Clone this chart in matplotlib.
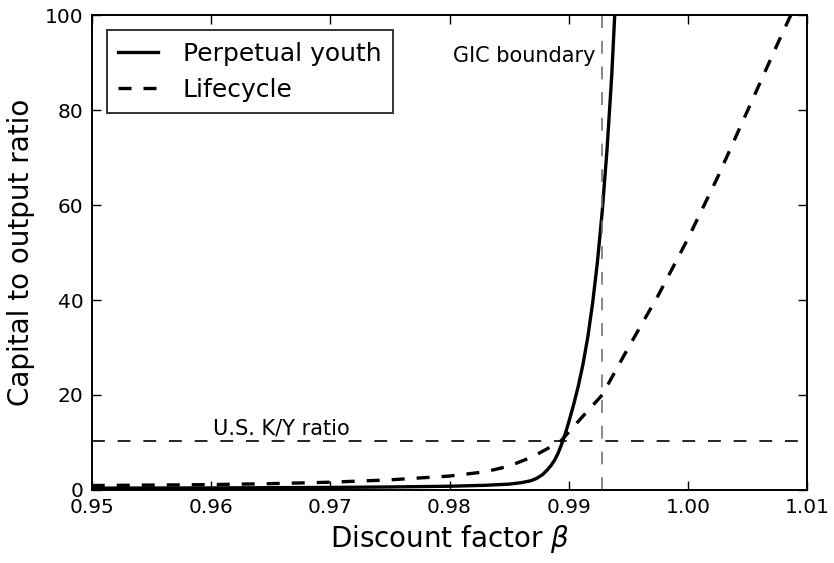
import matplotlib
matplotlib.use("Agg")
import matplotlib.pyplot as plt

# curves
beta_py = [0.950, 0.960, 0.970, 0.975, 0.980, 0.983, 0.985, 0.986, 0.9868,
           0.9873, 0.9878, 0.9882, 0.9885, 0.9888, 0.9891, 0.9894, 0.9897,
           0.9900, 0.9904, 0.9908, 0.9912, 0.9916, 0.9920, 0.9924, 0.9928,
           0.9932, 0.9936, 0.99385]
ky_py = [0.35, 0.4, 0.5, 0.6, 0.75, 0.95, 1.2, 1.5, 1.9,
         2.4, 3.2, 4.2, 5.1, 6.2, 7.7, 9.6, 11.8,
         14.3, 17.9, 21.9, 26.6, 32.3, 39.4, 48.0, 58.6,
         71.5, 87.3, 100.0]

beta_lc = [0.950, 0.955, 0.960, 0.965, 0.970, 0.975, 0.980, 0.983, 0.985,
           0.987, 0.9893, 0.991, 0.9928, 0.995, 0.9975, 1.000, 1.0025,
           1.005, 1.0075, 1.0086]
ky_lc = [0.9, 1.0, 1.1, 1.3, 1.6, 2.1, 2.9, 3.8, 5.0,
         7.0, 10.2, 15.0, 20.0, 30.0, 41.0, 53.0, 66.0,
         80.0, 94.0, 100.0]

us_ky = 10.26
gic_beta = 0.9928

xticks = [0.95, 0.96, 0.97, 0.98, 0.99, 1.00, 1.01]
yticks = [0, 20, 40, 60, 80, 100]

plt.rcParams['font.family'] = ['DejaVu Sans']
fig = plt.figure(figsize=(8.34, 5.63), dpi=100, facecolor='white')
ax = fig.add_axes([0.110, 0.130, 0.858, 0.8425])

ax.plot(beta_py, ky_py, color='k', lw=2.4, label='Perpetual youth')
ax.plot(beta_lc, ky_lc, color='k', lw=2.4, dashes=(3.9, 3.6), label='Lifecycle')

ax.axhline(us_ky, color='k', lw=1.2, dashes=(7.7, 7.7))
ax.axvline(gic_beta, color='0.45', lw=1.2, dashes=(7.7, 7.7))

ax.text(0.9922, 91.5, 'GIC boundary', ha='right', va='center', fontsize=15)
ax.text(0.9602, 11.7, 'U.S. K/Y ratio', ha='left', va='baseline', fontsize=15)

ax.set_xlim(0.95, 1.01)
ax.set_ylim(0, 100)
ax.set_xticks(xticks)
ax.set_xticklabels(['%.2f' % t for t in xticks])
ax.set_yticks(yticks)
ax.tick_params(direction='in', top=True, right=True, length=6.5, width=1,
               labelsize=14.5, pad=6)
for s in ax.spines.values():
    s.set_linewidth(1.4)

ax.set_xlabel(r'Discount factor $\beta$', fontsize=20)
ax.set_ylabel('Capital to output ratio', fontsize=20, labelpad=7)

leg = ax.legend(loc='upper left', fontsize=18, fancybox=False, frameon=True,
                borderaxespad=0.6, borderpad=0.45, handlelength=1.6,
                handletextpad=1.0, labelspacing=0.5)
leg.get_frame().set_edgecolor('k')
leg.get_frame().set_linewidth(1.4)

fig.savefig('out.png', dpi=100)
